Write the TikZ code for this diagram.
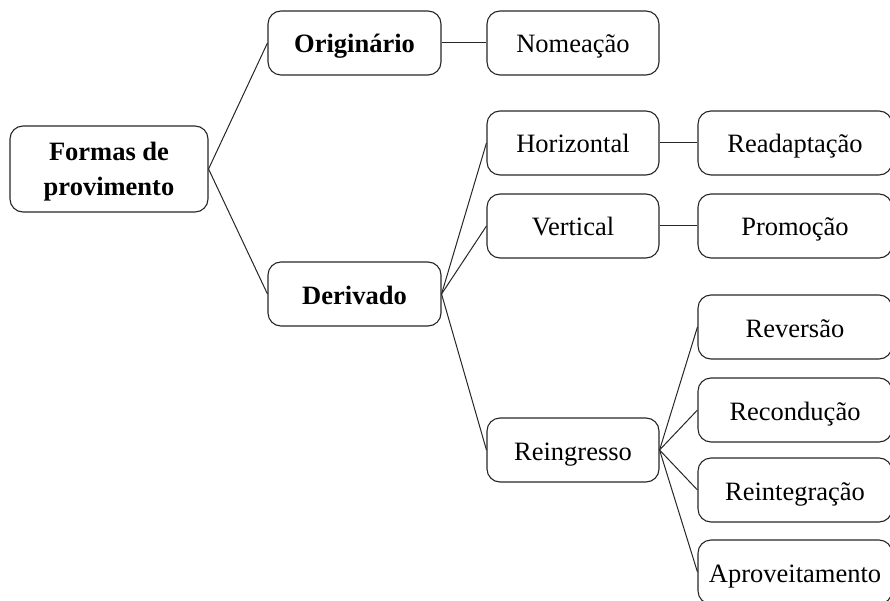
\documentclass[tikz,border=0pt]{standalone}
\usepackage{fontspec}
\setmainfont{Liberation Serif}
\begin{document}
\begin{tikzpicture}[x=1pt,y=-1pt,
  frame/.style={draw=black!85,line width=1.1pt,rounded corners=13pt,inner sep=0pt,align=center},
  box/.style={frame,minimum height=64pt,text height=26pt,text depth=6pt,
    font=\fontsize{26.5}{35}\selectfont},
  boldbox/.style={box,minimum width=173pt,font=\fontsize{26.5}{35}\selectfont\bfseries},
  midbox/.style={box,minimum width=172pt},
  rbox/.style={box,minimum width=194pt},
  link/.style={draw=black!85,line width=1pt}]
\useasboundingbox (0,0) rectangle (890,601);
\clip (0,0) rectangle (890,601);
\node[frame,text depth=0pt,minimum width=198pt,minimum height=86pt,
  font=\fontsize{26.5}{35}\selectfont\bfseries] (F) at (109,169) {Formas de\\provimento};
\node[boldbox] (O) at (354.5,43) {Originário};
\node[boldbox] (D) at (354.5,294) {Derivado};
\node[midbox] (N) at (573,43) {Nomeação};
\node[midbox] (H) at (573,143) {Horizontal};
\node[midbox] (V) at (573,226) {Vertical};
\node[midbox] (R) at (573,450) {Reingresso};
\node[rbox] (RA) at (795,143) {Readaptação};
\node[rbox] (PR) at (795,226) {Promoção};
\node[rbox] (RV) at (795,327) {Reversão};
\node[rbox] (RC) at (795,410) {Recondução};
\node[rbox] (RI) at (795,490) {Reintegração};
\node[rbox] (AP) at (795,572) {Aproveitamento};
\path[link] (F.east) -- (O.west);
\path[link] (F.east) -- (D.west);
\path[link] (O.east) -- (N.west);
\path[link] (D.east) -- (H.west);
\path[link] (D.east) -- (V.west);
\path[link] (D.east) -- (R.west);
\path[link] (H.east) -- (RA.west);
\path[link] (V.east) -- (PR.west);
\path[link] (R.east) -- (RV.west);
\path[link] (R.east) -- (RC.west);
\path[link] (R.east) -- (RI.west);
\path[link] (R.east) -- (AP.west);
\end{tikzpicture}
\end{document}
